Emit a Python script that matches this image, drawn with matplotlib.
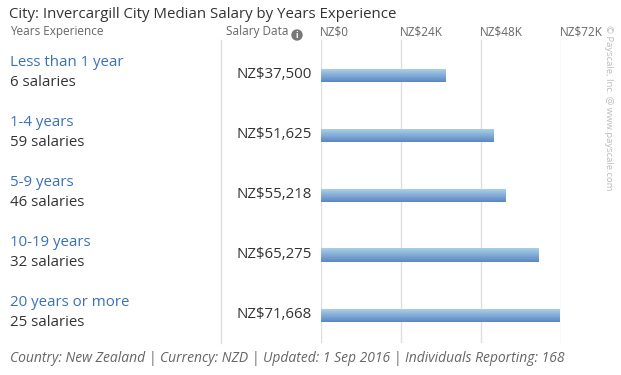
import numpy as np
import matplotlib.pyplot as plt
from matplotlib.patches import Circle
from matplotlib.colors import LinearSegmentedColormap

plt.rcParams["font.family"] = ["Open Sans", "DejaVu Sans"]

title = "City: Invercargill City Median Salary by Years Experience"
categories = ["Less than 1 year", "1-4 years", "5-9 years", "10-19 years", "20 years or more"]
counts = [6, 59, 46, 32, 25]
salaries = [37500, 51625, 55218, 65275, 71668]
tick_values = [0, 24000, 48000, 72000]
tick_labels = ["NZ$0", "NZ$24K", "NZ$48K", "NZ$72K"]
footer = "Country: New Zealand | Currency: NZD | Updated: 1 Sep 2016 | Individuals Reporting: 168"

W, H = 621, 375
fig = plt.figure(figsize=(W / 100, H / 100), dpi=100)

# overlay axes in pixel coordinates for the table text
bg = fig.add_axes([0, 0, 1, 1])
bg.set_xlim(0, W)
bg.set_ylim(H, 0)
bg.axis("off")

bg.text(9, 15, title, fontsize=10.8, color="#333333", va="center", ha="left")
bg.text(10, 32, "Years Experience", fontsize=8.5, color="#666666", va="center")
bg.text(226, 32, "Salary Data", fontsize=8.5, color="#666666", va="center")
bg.add_patch(Circle((297, 35), 5, color="#777777"))
bg.text(297, 35.5, "i", fontsize=6, color="white", ha="center", va="center",
        fontweight="bold")
bg.plot([221, 221], [40, 343], color="#dddddd", lw=1)

for i, (cat, n, s) in enumerate(zip(categories, counts, salaries)):
    yc = 72 + 60 * i
    bg.text(10, yc - 10, cat, fontsize=10.8, color="#3a70b4", va="center")
    bg.text(10, yc + 11, f"{n} salaries", fontsize=10.8, color="#333333", va="center")
    bg.text(236, yc + 3, f"NZ${s:,}", fontsize=10.8, color="#333333", va="center")

bg.text(10, 358, footer, fontsize=10, color="#666666", style="italic", va="center")
bg.text(609, 25, "© Payscale, Inc. @ www.payscale.com", fontsize=6.8, color="#bbbbbb",
        rotation=-90, ha="center", va="top")

# bar chart axes
x0, x1 = 321, 561
y_top, y_bot = 40, 343
ax = fig.add_axes([x0 / W, 1 - y_bot / H, (x1 - x0) / W, (y_bot - y_top) / H])
ax.axis("off")
for t in tick_values:
    ax.axvline(t, color="#e0e0e0", lw=1, zorder=0)

grad = np.linspace(0, 1, 50).reshape(-1, 1)
cmap = LinearSegmentedColormap.from_list("bar", ["#a9d0e8", "#5b86c2"])
h = 13 / 60
for i, s in enumerate(salaries):
    ax.imshow(grad, cmap=cmap, aspect="auto", extent=(0, s, i + h / 2, i - h / 2),
              zorder=2, interpolation="bilinear")
ax.set_xlim(0, 72000)
ax.set_ylim((y_bot - 76) / 60, (y_top - 76) / 60)

for t, lab in zip(tick_values, tick_labels):
    bg.text(x0 + (x1 - x0) * t / 72000 - 1, 32, lab, fontsize=8.5, color="#666666",
            va="center", ha="left")

fig.savefig("out.png", dpi=100)
